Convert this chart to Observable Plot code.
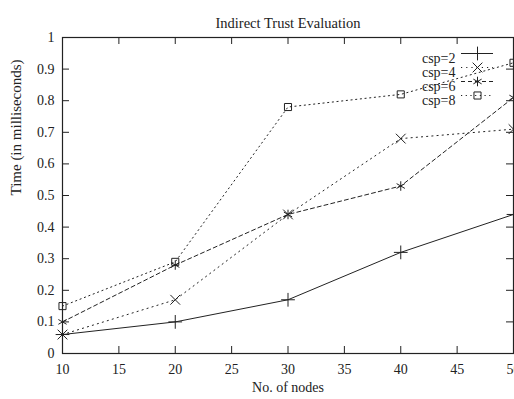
<!DOCTYPE html>
<html><head><meta charset="utf-8">
<script src="https://cdn.jsdelivr.net/npm/d3@7"></script>
<script src="https://cdn.jsdelivr.net/npm/@observablehq/plot@0.6"></script>
<style>body{margin:0;background:#fff}svg{overflow:visible}</style>
</head><body><div id="chart"></div>
<script>
const nodes = [10, 20, 30, 40, 50];
const csp2 = [0.06, 0.10, 0.17, 0.32, 0.44];
const csp4 = [0.06, 0.17, 0.44, 0.68, 0.71];
const csp6 = [0.10, 0.28, 0.44, 0.53, 0.81];
const csp8 = [0.15, 0.29, 0.78, 0.82, 0.92];
const seriesNames = ["csp=2", "csp=4", "csp=6", "csp=8"];
const xTicks = [10, 15, 20, 25, 30, 35, 40, 45, 50];
const yTicks = [0, 0.1, 0.2, 0.3, 0.4, 0.5, 0.6, 0.7, 0.8, 0.9, 1];
const title = "Indirect Trust Evaluation";
const xLabel = "No. of nodes";
const yLabel = "Time (in milliseconds)";

const values = [csp2, csp4, csp6, csp8];
const styles = [
  {symbol: "plus", dash: null},
  {symbol: "times", dash: "1.2,4"},
  {symbol: "asterisk", dash: "4,3"},
  {symbol: "square2", dash: "1.2,3.5"}
];
const ink = "#222";
const W = 514, H = 399;
const mT = 37, mB = 46, mL = 62, mR = 1;
const plotH = H - mT - mB, plotW = W - mL - mR;
const tick = 7;

const rows = [];
seriesNames.forEach((name, s) => nodes.forEach((n, i) => rows.push({series: name, s, x: n, y: values[s][i]})));

const marks = [];
values.forEach((v, s) => {
  const data = rows.filter(d => d.s === s);
  marks.push(Plot.line(data, {x: "x", y: "y", stroke: ink, strokeWidth: 1, strokeDasharray: styles[s].dash}));
  marks.push(Plot.dot(data, {x: "x", y: "y", symbol: () => styles[s].symbol, stroke: ink, fill: "none", r: 4.5, strokeWidth: 1}));
  const dy = 16 + 14 * s;
  marks.push(Plot.text([seriesNames[s]], {text: d => d, frameAnchor: "top-right", dx: -58, dy, textAnchor: "end", fontSize: 14, fill: ink}));
  marks.push(Plot.ruleY([1], {dy, insetLeft: 399, insetRight: 20, stroke: ink, strokeWidth: 1, strokeDasharray: styles[s].dash}));
  marks.push(Plot.dot([seriesNames[s]], {frameAnchor: "top-right", dx: -36, dy, symbol: () => styles[s].symbol, stroke: ink, fill: "none", r: 4.5, strokeWidth: 1}));
});

const chart = Plot.plot({
  width: W, height: H,
  marginTop: mT, marginBottom: mB, marginLeft: mL, marginRight: mR,
  style: {fontFamily: "'Liberation Serif', 'Times New Roman', serif", fontSize: "14px", color: ink, background: "#fff"},
  x: {domain: [10, 50]},
  y: {domain: [0, 1]},
  symbol: {type: "identity"},
  marks: [
    Plot.axisX(xTicks, {tickSize: 0, tickPadding: 11, label: null, fontSize: 14}),
    Plot.axisY(yTicks, {tickSize: 0, tickPadding: 8, label: null, fontSize: 14, tickFormat: d => String(d)}),
    Plot.tickX(xTicks, {x: d => d, insetTop: plotH - tick, stroke: ink}),
    Plot.tickX(xTicks, {x: d => d, insetBottom: plotH - tick, stroke: ink}),
    Plot.tickY(yTicks, {y: d => d, insetRight: plotW - tick, stroke: ink}),
    Plot.tickY(yTicks, {y: d => d, insetLeft: plotW - tick, stroke: ink}),
    Plot.frame({stroke: ink, strokeWidth: 1.2}),
    ...marks,
    Plot.text([title], {text: d => d, frameAnchor: "top", dy: -20, fontSize: 14.5, fill: ink}),
    Plot.text([xLabel], {text: d => d, frameAnchor: "bottom", dy: 38, fontSize: 14, fill: ink}),
    Plot.text([yLabel], {text: d => d, frameAnchor: "left", dx: -46, rotate: -90, fontSize: 15, fill: ink})
  ]
});
document.getElementById("chart").appendChild(chart);
</script></body></html>
